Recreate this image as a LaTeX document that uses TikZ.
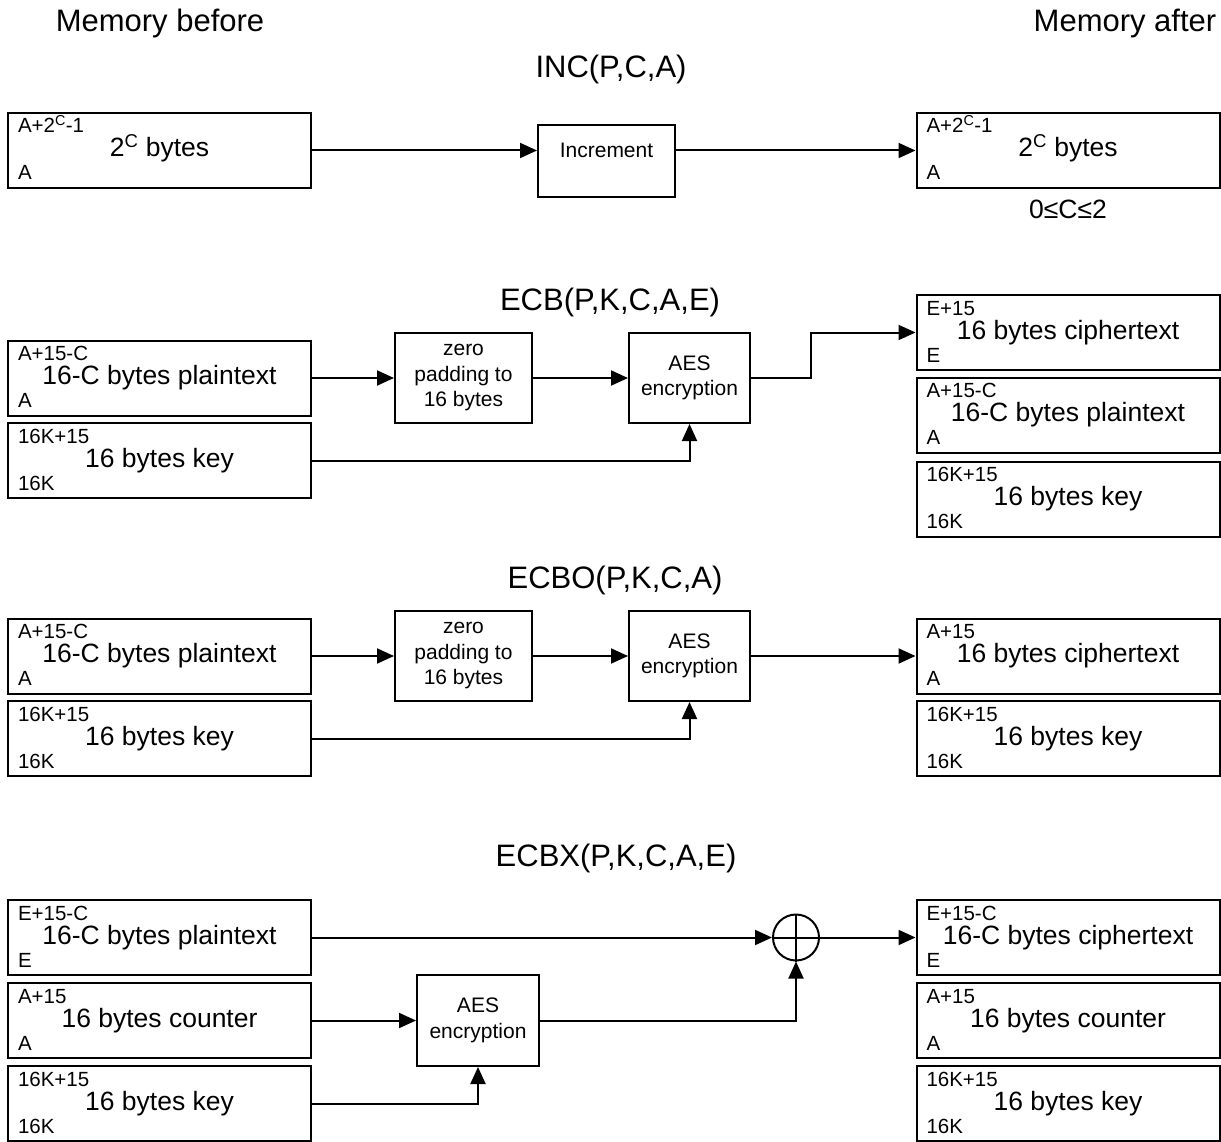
\documentclass[tikz,border=0pt]{standalone}
\usepackage{fontspec}
\setmainfont{Liberation Sans}
\usetikzlibrary{arrows.meta,positioning}

\begin{document}
\begin{tikzpicture}[
    x=1pt, y=-1pt, line width=2pt,
    mem/.style={rectangle, draw, inner sep=0pt, minimum width=303pt, minimum height=75pt,
                text height=19pt, text depth=6pt, font=\fontsize{26.5}{30}\selectfont},
    hi/.style={anchor=base west, xshift=10pt, yshift=-21pt, inner sep=0pt,
               font=\fontsize{20.5}{24}\selectfont},
    lo/.style={anchor=base west, xshift=10pt, yshift=9pt, inner sep=0pt,
               font=\fontsize{20.5}{24}\selectfont},
    proc/.style={rectangle, draw, inner sep=0pt, align=center,
                 font=\fontsize{21}{25.5}\selectfont},
    pad/.style={proc, minimum width=137pt, minimum height=90pt},
    aes/.style={proc, minimum width=121pt, minimum height=90pt},
    title/.style={anchor=base, inner sep=0pt, font=\fontsize{31}{36}\selectfont},
    arrow/.style={-{Triangle[length=17pt,width=15pt]}},
    xor/.style={circle, draw, minimum size=46pt, inner sep=0pt}
  ]
    \useasboundingbox (0,0) rectangle (1221,1142);

    \node[title] (before) at (160,32) {Memory before};
    \node[title] (after) at (1125,32) {Memory after};

    % INC
    \node[title] (inct) at (611,78) {INC(P,C,A)};
    \node[mem, label={[hi]north west:A+2\textsuperscript{C}-1}, label={[lo]south west:A}]
      (incin) at (159.5,150.5) {2\textsuperscript{C} bytes};
    \node[proc, minimum width=137pt, text height=33pt, text depth=39pt] (inc) at (606.5,161) {Increment};
    \node[mem, label={[hi]north west:A+2\textsuperscript{C}-1}, label={[lo]south west:A}]
      (incout) at (1068,150.5) {2\textsuperscript{C} bytes};
    \node[anchor=base, inner sep=0pt, font=\fontsize{26.5}{30}\selectfont] (range) at (1068,219) {0≤C≤2};
    \draw[arrow] (incin.east) -- (incin.east -| inc.west);
    \draw[arrow] (incin.east -| inc.east) -- (incout.west);

    % ECB
    \node[title] (ecbt) at (610,310) {ECB(P,K,C,A,E)};
    \node[mem, label={[hi]north west:A+15-C}, label={[lo]south west:A}]
      (ecbpt) at (159.5,378) {16-C bytes plaintext};
    \node[mem, label={[hi]north west:16K+15}, label={[lo]south west:16K}]
      (ecbkey) at (159.5,460.5) {16 bytes key};
    \node[pad] (ecbpad) at (463.5,378) {zero\\padding to\\16 bytes};
    \node[aes] (ecbaes) at (689.5,378) {AES\\encryption};
    \node[mem, label={[hi]north west:E+15}, label={[lo]south west:E}]
      (ecbct) at (1068,332.5) {16 bytes ciphertext};
    \node[mem, label={[hi]north west:A+15-C}, label={[lo]south west:A}]
      (ecbpt2) at (1068,415) {16-C bytes plaintext};
    \node[mem, label={[hi]north west:16K+15}, label={[lo]south west:16K}]
      (ecbkey2) at (1068,499) {16 bytes key};
    \foreach \a/\b in {ecbpt/ecbpad, ecbpad/ecbaes}
      \draw[arrow] (\a) -- (\b);
    \draw[arrow] (ecbkey.east) -| (ecbaes.south);
    \draw[arrow] (ecbaes.east) -- ++(60,0) |- (ecbct.west);

    % ECBO
    \node[title] (ecbot) at (615,588) {ECBO(P,K,C,A)};
    \node[mem, label={[hi]north west:A+15-C}, label={[lo]south west:A}]
      (ecbopt) at (159.5,656) {16-C bytes plaintext};
    \node[mem, label={[hi]north west:16K+15}, label={[lo]south west:16K}]
      (ecbokey) at (159.5,738.5) {16 bytes key};
    \node[pad] (ecbopad) at (463.5,656) {zero\\padding to\\16 bytes};
    \node[aes] (ecboaes) at (689.5,656) {AES\\encryption};
    \node[mem, label={[hi]north west:A+15}, label={[lo]south west:A}]
      (ecboct) at (1068,656) {16 bytes ciphertext};
    \node[mem, label={[hi]north west:16K+15}, label={[lo]south west:16K}]
      (ecbokey2) at (1068,738.5) {16 bytes key};
    \foreach \a/\b in {ecbopt/ecbopad, ecbopad/ecboaes, ecboaes/ecboct}
      \draw[arrow] (\a) -- (\b);
    \draw[arrow] (ecbokey.east) -| (ecboaes.south);

    % ECBX
    \node[title] (ecbxt) at (616,866) {ECBX(P,K,C,A,E)};
    \node[mem, label={[hi]north west:E+15-C}, label={[lo]south west:E}]
      (ecbxpt) at (159.5,937.5) {16-C bytes plaintext};
    \node[mem, label={[hi]north west:A+15}, label={[lo]south west:A}]
      (ecbxctr) at (159.5,1020.5) {16 bytes counter};
    \node[mem, label={[hi]north west:16K+15}, label={[lo]south west:16K}]
      (ecbxkey) at (159.5,1103.5) {16 bytes key};
    \node[aes, minimum width=122pt, minimum height=91pt] (ecbxaes) at (478,1020.5) {AES\\encryption};
    \node[xor] (ecbxor) at (796,937.5) {};
    \draw (ecbxor.north) -- (ecbxor.south) (ecbxor.west) -- (ecbxor.east);
    \node[mem, label={[hi]north west:E+15-C}, label={[lo]south west:E}]
      (ecbxct) at (1068,937.5) {16-C bytes ciphertext};
    \node[mem, label={[hi]north west:A+15}, label={[lo]south west:A}]
      (ecbxctr2) at (1068,1020.5) {16 bytes counter};
    \node[mem, label={[hi]north west:16K+15}, label={[lo]south west:16K}]
      (ecbxkey2) at (1068,1103.5) {16 bytes key};
    \foreach \a/\b in {ecbxpt/ecbxor, ecbxctr/ecbxaes, ecbxor/ecbxct}
      \draw[arrow] (\a) -- (\b);
    \draw[arrow] (ecbxkey.east) -| (ecbxaes.south);
    \draw[arrow] (ecbxaes.east) -| (ecbxor.south);
\end{tikzpicture}
\end{document}
